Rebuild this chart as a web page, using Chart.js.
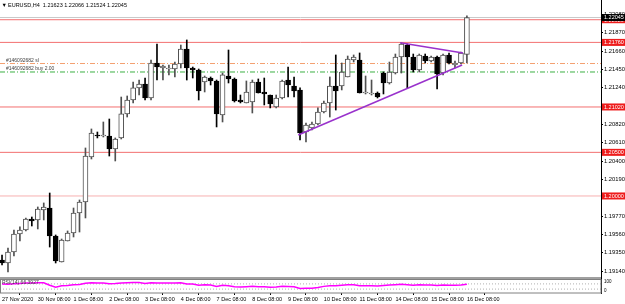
<!DOCTYPE html>
<html lang="en">
<head>
<meta charset="UTF-8">
<title>EURUSD,H4</title>
<script src="https://cdn.jsdelivr.net/npm/chart.js"></script>
<style>
  html, body { margin: 0; padding: 0; background: #fff; overflow: hidden; }
  #wrap { width: 625px; height: 304px; }
</style>
</head>
<body>
<div id="wrap"><canvas id="chart" width="625" height="304"></canvas></div>
<script>
  // H4 bars, 27 Nov 08:00 .. 16 Dec 08:00
  const timeIdx = [0, 6, 12, 18, 24, 30, 36, 42, 48, 54, 60, 66, 72, 78];
  const timeLabels = ['27 Nov 2020', '30 Nov 08:00', '1 Dec 08:00', '2 Dec 08:00', '3 Dec 08:00',
    '4 Dec 08:00', '7 Dec 08:00', '8 Dec 08:00', '9 Dec 08:00', '10 Dec 08:00', '11 Dec 08:00',
    '14 Dec 08:00', '15 Dec 08:00', '16 Dec 08:00'];

  const opens = [1.19266, 1.19232, 1.19358, 1.19564, 1.19610, 1.19736, 1.19725, 1.19839, 1.19862, 1.19541,
    1.19243, 1.19484, 1.19576, 1.19805, 1.19931, 1.20447, 1.20699, 1.20687, 1.20687, 1.20538,
    1.20665, 1.20940, 1.21100, 1.21238, 1.21283, 1.21123, 1.21524, 1.21467, 1.21455, 1.21455,
    1.21513, 1.21684, 1.21467, 1.21444, 1.21306, 1.21352, 1.21318, 1.20928, 1.21375, 1.21341,
    1.21100, 1.21066, 1.21077, 1.21306, 1.21192, 1.21157, 1.21020, 1.21123, 1.21329, 1.21260,
    1.21215, 1.20733, 1.20779, 1.20825, 1.20962, 1.21066, 1.21260, 1.21260, 1.21364, 1.21558,
    1.21558, 1.21180, 1.21169, 1.21180, 1.21409, 1.21295, 1.21409, 1.21593, 1.21730, 1.21593,
    1.21444, 1.21604, 1.21547, 1.21593, 1.21409, 1.21616, 1.21501, 1.21524, 1.21623];
  const highs = [1.19324, 1.19404, 1.19610, 1.19645, 1.19748, 1.19759, 1.19874, 1.19920, 1.20034, 1.19553,
    1.19507, 1.19599, 1.19862, 1.19954, 1.20550, 1.20768, 1.20733, 1.20848, 1.20882, 1.20665,
    1.21134, 1.21146, 1.21306, 1.21329, 1.21352, 1.21558, 1.21742, 1.21501, 1.21501, 1.21535,
    1.21730, 1.21788, 1.21478, 1.21455, 1.21375, 1.21364, 1.21329, 1.21409, 1.21673, 1.21352,
    1.21157, 1.21318, 1.21329, 1.21341, 1.21352, 1.21157, 1.21157, 1.21329, 1.21478, 1.21364,
    1.21238, 1.20836, 1.20848, 1.21009, 1.21088, 1.21364, 1.21616, 1.21524, 1.21604, 1.21616,
    1.21639, 1.21375, 1.21329, 1.21192, 1.21421, 1.21535, 1.21627, 1.21753, 1.21742, 1.21627,
    1.21627, 1.21627, 1.21604, 1.21604, 1.21627, 1.21639, 1.21547, 1.21650, 1.22066];
  const lows = [1.19209, 1.19129, 1.19312, 1.19484, 1.19599, 1.19656, 1.19622, 1.19725, 1.19415, 1.19232,
    1.19243, 1.19484, 1.19530, 1.19587, 1.19748, 1.20424, 1.20665, 1.20676, 1.20458, 1.20401,
    1.20653, 1.20905, 1.21066, 1.21157, 1.21100, 1.21100, 1.21329, 1.21329, 1.21387, 1.21364,
    1.21467, 1.21329, 1.21352, 1.21100, 1.21192, 1.21272, 1.20791, 1.20848, 1.21295, 1.21077,
    1.21066, 1.21066, 1.20951, 1.21180, 1.21043, 1.21009, 1.21009, 1.21111, 1.21134, 1.21134,
    1.20642, 1.20619, 1.20756, 1.20813, 1.20951, 1.20905, 1.20985, 1.21215, 1.21364, 1.21535,
    1.21180, 1.21169, 1.21157, 1.21123, 1.21169, 1.21283, 1.21398, 1.21409, 1.21238, 1.21421,
    1.21421, 1.21524, 1.21535, 1.21226, 1.21387, 1.21513, 1.21467, 1.21513, 1.21524];
  const closes = [1.19232, 1.19358, 1.19564, 1.19610, 1.19736, 1.19713, 1.19851, 1.19874, 1.19541, 1.19255,
    1.19495, 1.19576, 1.19805, 1.19931, 1.20458, 1.20722, 1.20687, 1.20687, 1.20538, 1.20653,
    1.20940, 1.21100, 1.21238, 1.21283, 1.21123, 1.21524, 1.21478, 1.21490, 1.21455, 1.21513,
    1.21684, 1.21467, 1.21444, 1.21203, 1.21364, 1.21318, 1.20940, 1.21387, 1.21341, 1.21088,
    1.21077, 1.21192, 1.21306, 1.21180, 1.21169, 1.21054, 1.21123, 1.21318, 1.21272, 1.21203,
    1.20722, 1.20813, 1.20825, 1.20962, 1.21066, 1.21260, 1.21203, 1.21421, 1.21570, 1.21593,
    1.21180, 1.21180, 1.21169, 1.21134, 1.21295, 1.21421, 1.21593, 1.21742, 1.21593, 1.21444,
    1.21616, 1.21547, 1.21593, 1.21398, 1.21616, 1.21524, 1.21524, 1.21639, 1.22045];

  const rsi = [70, 68, 72, 74, 77, 76, 78, 78, 60, 45,
    55, 58, 63, 66, 75, 78, 77, 77, 72, 73,
    77, 79, 80, 80, 74, 79, 77, 77, 76, 77,
    79, 70, 69, 60, 63, 61, 50, 60, 55, 48,
    47, 49, 52, 48, 48, 45, 47, 52, 50, 48,
    35, 37, 37, 42, 51, 56, 55, 60, 63, 64,
    55, 55, 55, 54, 58, 61, 64, 67, 63, 59,
    63, 61, 62, 57, 62, 60, 60, 62, 66.3927];
  const rsiLevels = [70, 30];

  const priceTicks = [1.22080, 1.21870, 1.21660, 1.21450, 1.21240, 1.21030, 1.20820, 1.20610,
    1.20400, 1.20190, 1.19980, 1.19770, 1.19560, 1.19350, 1.19140];
  const levels = [1.22020, 1.21760, 1.21020, 1.20500, 1.20000];
  const bid = 1.22045;
  const slPrice = 1.21518;
  const buyPrice = 1.21421;
  // trend lines: [bar index, price]
  const trendLow = [[49.7, 1.20699], [77.2, 1.21501]];
  const trendHigh = [[66.8, 1.21757], [77.35, 1.21639]];

  const xMin = -0.34, xMax = 100.5;
  const font = '"Liberation Sans", Arial, sans-serif';
  const up = i => closes[i] >= opens[i];

  const hline = (v, color, dash, width, axis) => ({
    type: 'line',
    data: [{x: xMin, y: v}, {x: xMax, y: v}],
    yAxisID: axis || 'y',
    borderColor: color,
    borderWidth: width || 1,
    borderDash: dash || [],
    pointRadius: 0,
    order: 5
  });
  const tline = pts => ({
    type: 'line',
    data: pts.map(p => ({x: p[0], y: p[1]})),
    borderColor: '#9932cc',
    borderWidth: 1.5,
    pointRadius: 0,
    order: 0
  });

  const decor = {
    id: 'decor',
    afterDraw(c) {
      const {ctx, chartArea: a, scales: {y}} = c;
      ctx.save();
      // indicator window frame
      ctx.fillStyle = '#a0a0a0';
      ctx.fillRect(0, 277, a.right, 2);
      ctx.strokeStyle = '#808080';
      ctx.lineWidth = 1;
      ctx.strokeRect(0.5, 279.5, a.right - 0.5, 13.5);

      ctx.font = '5.5px ' + font;
      ctx.textBaseline = 'middle';
      ctx.textAlign = 'left';
      ctx.fillStyle = '#000';
      ctx.fillText('\u25BC', 1.5, 5);
      ctx.fillText(`EURUSD,H4  ${opens[78].toFixed(5)} ${highs[78].toFixed(5)} ${lows[78].toFixed(5)} ${closes[78].toFixed(5)}`, 8, 5);

      ctx.fillStyle = '#404040';
      ctx.font = '5px ' + font;
      ctx.fillText('#146092682 sl', 6, y.getPixelForValue(slPrice) - 3);
      ctx.fillText('#146092682 buy 2.00', 6, y.getPixelForValue(buyPrice) - 3);
      ctx.fillText(`RSI(14) ${rsi[78].toFixed(4)}`, 2, 283);

      // price boxes on axis
      ctx.font = '5.5px ' + font;
      const box = (v, bg) => {
        const yy = y.getPixelForValue(v);
        ctx.fillStyle = bg;
        ctx.fillRect(a.right + 1, yy - 3.5, 23, 7);
        ctx.fillStyle = '#fff';
        ctx.fillText(v.toFixed(5), a.right + 3, yy + 0.3);
      };
      levels.forEach(v => box(v, '#ee1c1c'));
      box(bid, '#000');

      ctx.fillStyle = '#000';
      ctx.font = '4.5px ' + font;
      ctx.fillText('100', a.right + 3, 282);
      ctx.fillText('0', a.right + 3, 291);
      ctx.restore();
    }
  };

  const ctx = document.getElementById('chart').getContext('2d');
  new Chart(ctx, {
    type: 'bar',
    data: {
      datasets: [
        {
          data: opens.map((o, i) => ({x: i, y: [o, closes[i]]})),
          barThickness: 5,
          minBarLength: 1,
          grouped: false,
          borderWidth: 1,
          borderSkipped: false,
          borderColor: c => up(c.dataIndex) ? '#505050' : '#000',
          backgroundColor: c => up(c.dataIndex) ? '#fff' : '#000',
          order: 1
        },
        {
          data: lows.map((l, i) => ({x: i, y: [l, highs[i]]})),
          barThickness: 1,
          grouped: false,
          borderWidth: 0,
          backgroundColor: c => up(c.dataIndex) ? '#505050' : '#000',
          order: 2
        },
        hline(bid, '#c8c8c8'),
        ...levels.map((v, i) => hline(v, i === levels.length - 1 ? '#f7b0b0' : '#f37070')),
        hline(slPrice, '#f4a070', [5, 2, 1, 2]),
        hline(buyPrice, '#3cb043', [5, 2, 1, 2]),
        tline(trendLow),
        tline(trendHigh),
        ...rsiLevels.map(v => hline(v, '#b0b0b0', [1, 2], 1, 'yRsi')),
        {
          type: 'line',
          data: rsi.map((v, i) => ({x: i, y: v})),
          yAxisID: 'yRsi',
          borderColor: '#ff00ff',
          borderWidth: 1.5,
          pointRadius: 0,
          tension: 0,
          order: 0
        }
      ]
    },
    options: {
      responsive: false,
      animation: false,
      layout: { padding: 0 },
      plugins: { legend: { display: false }, tooltip: { enabled: false } },
      scales: {
        x: {
          type: 'linear',
          min: xMin,
          max: xMax,
          offset: false,
          border: { display: false },
          grid: { drawOnChartArea: false, tickLength: 2, color: '#000' },
          afterBuildTicks: s => { s.ticks = timeIdx.map(v => ({value: v})); },
          afterFit: s => { s.height = 11; s.paddingLeft = 0; s.paddingRight = 0; },
          ticks: {
            autoSkip: false,
            maxRotation: 0,
            minRotation: 0,
            align: 'start',
            padding: 1,
            color: '#000',
            font: { family: font, size: 5.5 },
            callback: (v, i) => timeLabels[i]
          }
        },
        y: {
          position: 'right',
          min: 1.18888,
          max: 1.22246,
          border: { color: '#000' },
          grid: { drawOnChartArea: false, tickLength: 2, color: '#000' },
          afterBuildTicks: s => { s.ticks = priceTicks.map(v => ({value: v})); },
          afterFit: s => { s.width = 24; s.paddingTop = 0; s.paddingBottom = 0; },
          ticks: {
            padding: 1,
            color: '#000',
            font: { family: font, size: 5.8 },
            callback: v => v.toFixed(5)
          }
        },
        yRsi: {
          type: 'linear',
          position: 'right',
          display: false,
          min: 0,
          max: 2253.8
        }
      }
    },
    plugins: [decor]
  });
</script>
</body>
</html>
